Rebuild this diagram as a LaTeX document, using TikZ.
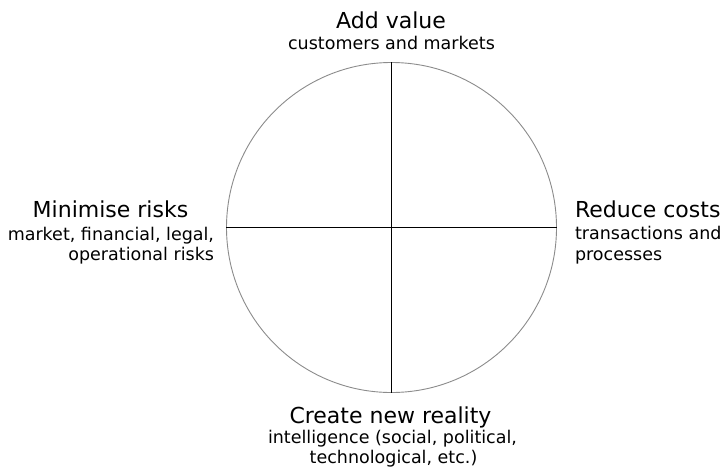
\documentclass[tikz,border=0pt]{standalone}
\usepackage{fontspec}
\setmainfont{DejaVu Sans}
\tikzset{
  headtext/.style={text=drawColor,anchor=base,inner sep=0pt,outer sep=0pt,font=\fontsize{22}{26}\selectfont},
  subtext/.style={text=drawColor,anchor=base,inner sep=0pt,outer sep=0pt,font=\fontsize{17.5}{20}\selectfont}
}
\begin{document}
\begin{tikzpicture}[x=1pt,y=-1pt]
\definecolor{fillColor}{RGB}{255,255,255}
\path[use as bounding box,fill=fillColor] (0,0) rectangle (722,471);
\begin{scope}
\definecolor{drawColor}{RGB}{0,0,0}
\definecolor{rimColor}{RGB}{140,140,140}

\node[draw=rimColor,line width=0.9pt,circle,inner sep=0pt,minimum size=330pt] (wheel) at (391.5,227.5) {};

\path[draw=drawColor,line width= 0.9pt] (wheel.north) -- (wheel.south);

\path[draw=drawColor,line width= 0.9pt] (wheel.west) -- (wheel.east);
\end{scope}
\begin{scope}
\definecolor{drawColor}{RGB}{0,0,0}

\node[headtext] (valueHead) at (391.0, 28.0) {Add value};

\node[subtext] (valueSub) at (391.5, 49.0) {customers and markets};

\node[headtext] (riskHead) at (110.5,217.0) {Minimise risks};

\node[subtext,anchor=base east] (riskSubA) at (214.0,240.0) {market, financial, legal,};

\node[subtext,anchor=base east] (riskSubB) at (214.0,260.0) {operational risks};

\node[headtext,anchor=base west] (costHead) at (575.0,217.0) {Reduce costs};

\node[subtext,anchor=base west] (costSubA) at (575.0,239.5) {transactions and};

\node[subtext,anchor=base west] (costSubB) at (575.0,260.0) {processes};

\node[headtext] (realHead) at (390.5,423.5) {Create new reality};

\node[subtext] (realSubA) at (392.5,443.5) {intelligence (social, political,};

\node[subtext] (realSubB) at (393.5,463.5) {technological, etc.)};
\end{scope}
\end{tikzpicture}
\end{document}
